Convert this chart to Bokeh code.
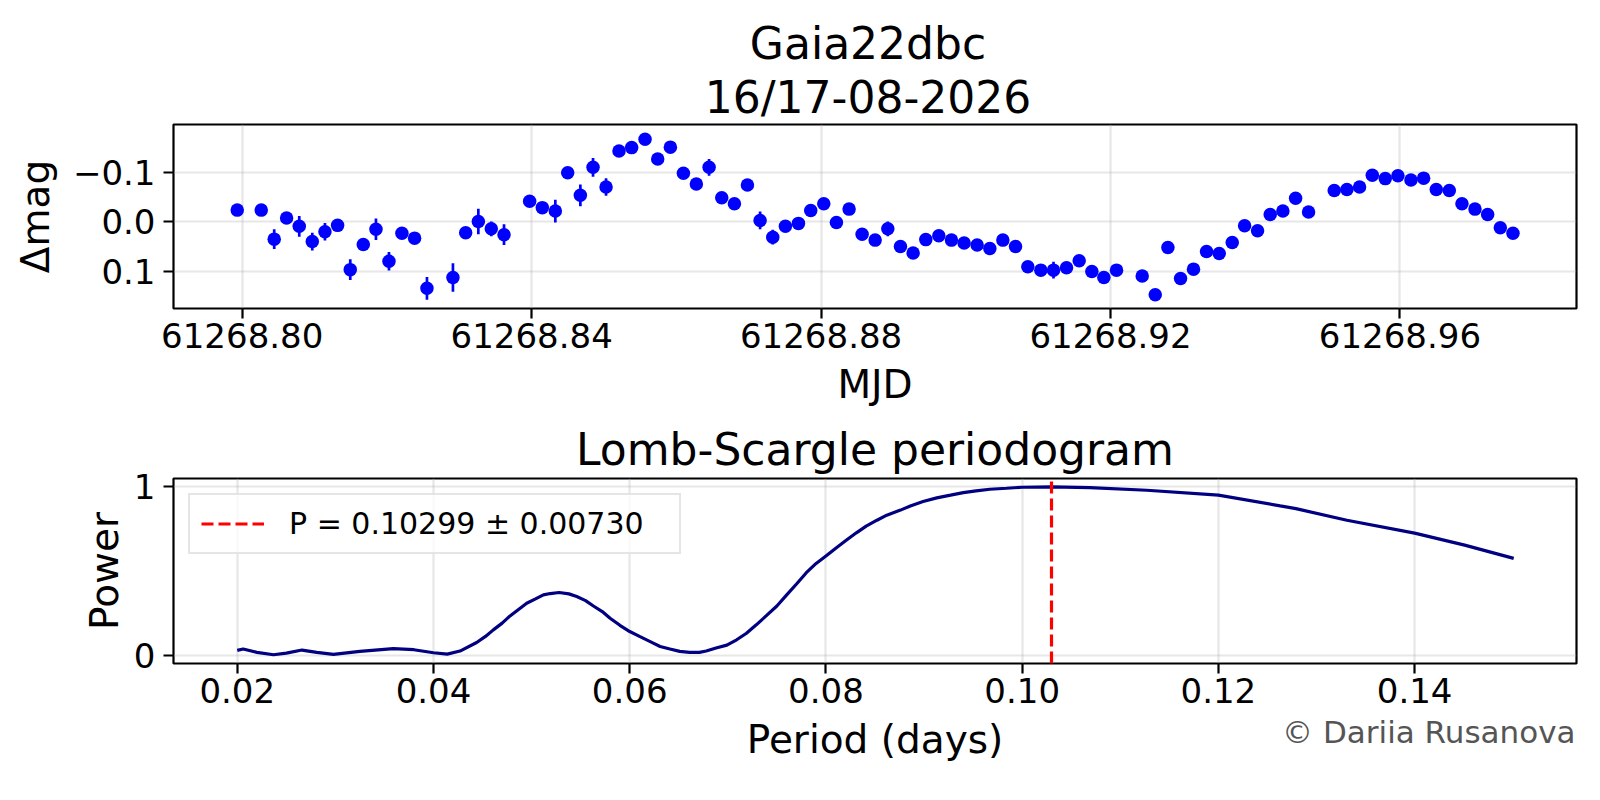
from bokeh.plotting import figure
from bokeh.models import (Range1d, FixedTicker, CustomJSTickFormatter, PrintfTickFormatter,
                          Title, Legend, LegendItem)
from bokeh.layouts import column
from bokeh.embed import file_html
from bokeh.resources import INLINE

# ---------------- data ----------------
title_name = "Gaia22dbc"
title_date = "16/17-08-2026"
credit = "© Dariia Rusanova"

mjd = [61268.79931, 61268.80263, 61268.80442, 61268.80613, 61268.80788, 61268.80968,
       61268.81143, 61268.81318, 61268.81493, 61268.81673, 61268.81848, 61268.82028,
       61268.82207, 61268.82382, 61268.82553, 61268.82912, 61268.83088, 61268.83263,
       61268.83442, 61268.83618, 61268.83972, 61268.84147, 61268.84327, 61268.84498,
       61268.84673, 61268.84848, 61268.85028, 61268.85207, 61268.85382, 61268.85567,
       61268.85742, 61268.85917, 61268.86097, 61268.86276, 61268.86452, 61268.86627,
       61268.86802, 61268.86982, 61268.87157, 61268.87332, 61268.87507, 61268.87687,
       61268.87857, 61268.88037, 61268.88212, 61268.88387, 61268.88567, 61268.88747,
       61268.88922, 61268.89097, 61268.89272, 61268.89447, 61268.89627, 61268.89802,
       61268.89977, 61268.90157, 61268.90332, 61268.90512, 61268.90687, 61268.90857,
       61268.91037, 61268.91212, 61268.91392, 61268.91567, 61268.91742, 61268.91908,
       61268.92083, 61268.92438, 61268.92618, 61268.92793, 61268.92968, 61268.93147,
       61268.93327, 61268.93502, 61268.93682, 61268.93853, 61268.94032, 61268.94207,
       61268.94382, 61268.94558, 61268.94737, 61268.95092, 61268.95267, 61268.95442,
       61268.95618, 61268.95797, 61268.95972, 61268.96152, 61268.96327, 61268.96502,
       61268.96682, 61268.96857, 61268.97037, 61268.97212, 61268.97387, 61268.97562]

dmag = [-0.024, -0.024, 0.035, -0.008, 0.009, 0.040, 0.020, 0.007, 0.097, 0.046,
        0.015, 0.080, 0.023, 0.033, 0.135, 0.113, 0.022, -0.001, 0.014, 0.026,
        -0.042, -0.029, -0.022, -0.100, -0.054, -0.111, -0.071, -0.144, -0.151, -0.168,
        -0.128, -0.152, -0.099, -0.077, -0.111, -0.049, -0.037, -0.075, -0.003, 0.031,
        0.009, 0.003, -0.023, -0.037, 0.001, -0.026, 0.025, 0.037, 0.014, 0.050,
        0.063, 0.036, 0.028, 0.037, 0.043, 0.047, 0.054, 0.037, 0.050, 0.091,
        0.098, 0.098, 0.093, 0.079, 0.101, 0.113, 0.098, 0.110, 0.148, 0.052,
        0.115, 0.096, 0.060, 0.064, 0.042, 0.008, 0.018, -0.015, -0.022, -0.048,
        -0.020, -0.064, -0.066, -0.071, -0.095, -0.088, -0.094, -0.085, -0.089, -0.066,
        -0.064, -0.037, -0.026, -0.015, 0.012, 0.023]

dmag_err = [0.008, 0.008, 0.020, 0.008, 0.021, 0.018, 0.018, 0.008, 0.021, 0.010,
            0.022, 0.019, 0.008, 0.008, 0.023, 0.029, 0.008, 0.026, 0.015, 0.021,
            0.008, 0.008, 0.023, 0.008, 0.022, 0.019, 0.018, 0.008, 0.008, 0.008,
            0.008, 0.008, 0.008, 0.008, 0.017, 0.008, 0.008, 0.008, 0.018, 0.015,
            0.008, 0.008, 0.008, 0.010, 0.008, 0.008, 0.008, 0.008, 0.015, 0.008,
            0.008, 0.008, 0.008, 0.008, 0.008, 0.008, 0.008, 0.008, 0.008, 0.008,
            0.008, 0.017, 0.008, 0.008, 0.008, 0.008, 0.008, 0.008, 0.008, 0.008,
            0.008, 0.008, 0.008, 0.008, 0.008, 0.008, 0.008, 0.008, 0.008, 0.008,
            0.008, 0.008, 0.008, 0.008, 0.008, 0.008, 0.008, 0.008, 0.008, 0.008,
            0.008, 0.008, 0.008, 0.008, 0.008, 0.008]

period = [0.0200, 0.0206, 0.0220, 0.0237, 0.0250, 0.0266, 0.0281, 0.0298, 0.0325, 0.0359,
          0.0380, 0.0400, 0.0414, 0.0427, 0.0444, 0.0453, 0.0461, 0.0470, 0.0478, 0.0487,
          0.0495, 0.0504, 0.0512, 0.0519, 0.0528, 0.0538, 0.0546, 0.0555, 0.0563, 0.0572,
          0.0580, 0.0590, 0.0600, 0.0610, 0.0624, 0.0631, 0.0641, 0.0651, 0.0661, 0.0671,
          0.0678, 0.0688, 0.0699, 0.0709, 0.0719, 0.0729, 0.0739, 0.0750, 0.0760, 0.0770,
          0.0780, 0.0790, 0.0800, 0.0811, 0.0821, 0.0831, 0.0841, 0.0852, 0.0862, 0.0876,
          0.0886, 0.0899, 0.0913, 0.0927, 0.0940, 0.0953, 0.0967, 0.0984, 0.1000, 0.1030,
          0.1069, 0.1127, 0.1200, 0.1263, 0.1279, 0.1331, 0.1400, 0.1451, 0.1501]
power = [0.028, 0.036, 0.016, 0.002, 0.012, 0.030, 0.016, 0.004, 0.022, 0.038,
         0.032, 0.014, 0.006, 0.024, 0.075, 0.111, 0.150, 0.190, 0.233, 0.273,
         0.308, 0.334, 0.358, 0.366, 0.372, 0.364, 0.348, 0.324, 0.292, 0.259,
         0.219, 0.177, 0.140, 0.111, 0.071, 0.051, 0.036, 0.022, 0.016, 0.016,
         0.024, 0.042, 0.059, 0.091, 0.130, 0.180, 0.233, 0.292, 0.358, 0.423,
         0.490, 0.545, 0.589, 0.640, 0.684, 0.727, 0.767, 0.802, 0.832, 0.862,
         0.887, 0.913, 0.935, 0.951, 0.966, 0.976, 0.986, 0.992, 0.998, 1.000,
         0.996, 0.980, 0.951, 0.887, 0.871, 0.802, 0.725, 0.654, 0.575]

best_period = 0.10299
best_period_err = 0.00730

mjd_ticks = [61268.80, 61268.84, 61268.88, 61268.92, 61268.96]
dmag_ticks = [-0.1, 0.0, 0.1]
period_ticks = [0.02, 0.04, 0.06, 0.08, 0.10, 0.12, 0.14]
power_ticks = [0, 1]

FONT = "DejaVu Sans"


def style(p):
    p.outline_line_color = "black"
    p.outline_line_width = 2.2
    p.outline_line_alpha = 1.0
    p.background_fill_color = "white"
    p.border_fill_color = "white"
    for g in (p.xgrid, p.ygrid):
        g.grid_line_color = "#b0b0b0"
        g.grid_line_alpha = 0.3
        g.grid_line_width = 2.2
    for ax in (p.xaxis, p.yaxis):
        ax.axis_line_color = None
        ax.major_tick_line_color = "black"
        ax.major_tick_line_width = 2.2
        ax.major_tick_out = 10
        ax.major_tick_in = 0
        ax.minor_tick_line_color = None
        ax.major_label_text_font = FONT
        ax.major_label_text_font_size = "34px"
        ax.major_label_text_color = "black"
        ax.axis_label_text_font = FONT
        ax.axis_label_text_font_size = "39px"
        ax.axis_label_text_font_style = "normal"
        ax.axis_label_text_color = "black"
    p.xaxis.major_label_standoff = 4
    p.xaxis.axis_label_standoff = 11
    p.yaxis.major_label_standoff = 8
    p.yaxis.axis_label_standoff = 12


# ---------------- light curve ----------------
p1 = figure(frame_width=1403, frame_height=184, title=None,
            x_range=Range1d(61268.7905, 61268.9844), y_range=Range1d(0.176, -0.198),
            output_backend="svg", toolbar_location=None,
            min_border_left=173, min_border_right=8, min_border_top=124, min_border_bottom=110)
style(p1)
p1.add_layout(Title(text=" " + title_date, align="center", text_font=FONT, text_font_size="44px",
                    text_font_style="normal", text_color="black", standoff=3), "above")
p1.add_layout(Title(text=title_name + " ", align="center", text_font=FONT, text_font_size="44px",
                    text_font_style="normal", text_color="black", standoff=0), "above")

p1.xaxis.ticker = FixedTicker(ticks=mjd_ticks)
p1.xgrid.ticker = FixedTicker(ticks=mjd_ticks)
p1.xaxis.formatter = PrintfTickFormatter(format="%.2f")
p1.yaxis.ticker = FixedTicker(ticks=dmag_ticks)
p1.ygrid.ticker = FixedTicker(ticks=dmag_ticks)
p1.yaxis.formatter = CustomJSTickFormatter(
    code="return (tick < -1e-9 ? '\u2212' : '') + Math.abs(tick).toFixed(1);")
p1.xaxis.axis_label = "MJD"
p1.yaxis.axis_label = "Δmag"

lo = [m - e for m, e in zip(dmag, dmag_err)]
hi = [m + e for m, e in zip(dmag, dmag_err)]
p1.segment(x0=mjd, y0=lo, x1=mjd, y1=hi, line_color="blue", line_width=2.7)
p1.scatter(x=mjd, y=dmag, size=13.5, fill_color="blue", line_color="blue", line_width=0)

# ---------------- periodogram ----------------
x2_lo, x2_hi = 0.0135, 0.1565
y2_lo, y2_hi = -0.05, 1.05
p2 = figure(frame_width=1403, frame_height=185, title="Lomb-Scargle periodogram",
            x_range=Range1d(x2_lo, x2_hi), y_range=Range1d(y2_lo, y2_hi),
            output_backend="svg", toolbar_location=None,
            min_border_left=173, min_border_right=8, min_border_top=59, min_border_bottom=110)
style(p2)
p2.yaxis.axis_label_standoff = 4
p2.title.align = "center"
p2.title.text_font = FONT
p2.title.text_font_size = "44px"
p2.title.text_font_style = "normal"
p2.title.text_color = "black"
p2.title.standoff = 7

p2.xaxis.ticker = FixedTicker(ticks=period_ticks)
p2.xgrid.ticker = FixedTicker(ticks=period_ticks)
p2.xaxis.formatter = PrintfTickFormatter(format="%.2f")
p2.yaxis.ticker = FixedTicker(ticks=power_ticks)
p2.ygrid.ticker = FixedTicker(ticks=power_ticks)
p2.yaxis.formatter = PrintfTickFormatter(format="%d")
p2.xaxis.axis_label = "Period (days)"
p2.yaxis.axis_label = "Power"

p2.line(x=period, y=power, line_color="#000080", line_width=3.2)
vline = p2.segment(x0=[best_period], y0=[y2_lo], x1=[best_period], y1=[y2_hi],
                   line_color="red", line_width=3.2, line_dash="12 5")

legend = Legend(items=[LegendItem(label=f"P = {best_period:.5f} ± {best_period_err:.5f}",
                                  renderers=[vline])],
                location="top_left", margin=15, padding=11, spacing=0,
                glyph_width=63, glyph_height=33, label_standoff=25, label_width=379,
                label_text_font=FONT, label_text_font_size="30px", label_text_color="black",
                border_line_color="#cccccc", border_line_width=2.2,
                background_fill_color="white", background_fill_alpha=0.8)
p2.add_layout(legend)

# credit line, placed in the panel under the x axis and pulled up beside the axis label
p2.add_layout(Title(text=credit, align="right", vertical_align="top", offset=1, standoff=-102,
                    text_font=FONT, text_font_size="31px", text_font_style="normal",
                    text_color="#555555"), "below")

layout = column(p1, p2, spacing=0)
with open("out.html", "w", encoding="utf-8") as f:
    f.write(file_html(layout, INLINE))
